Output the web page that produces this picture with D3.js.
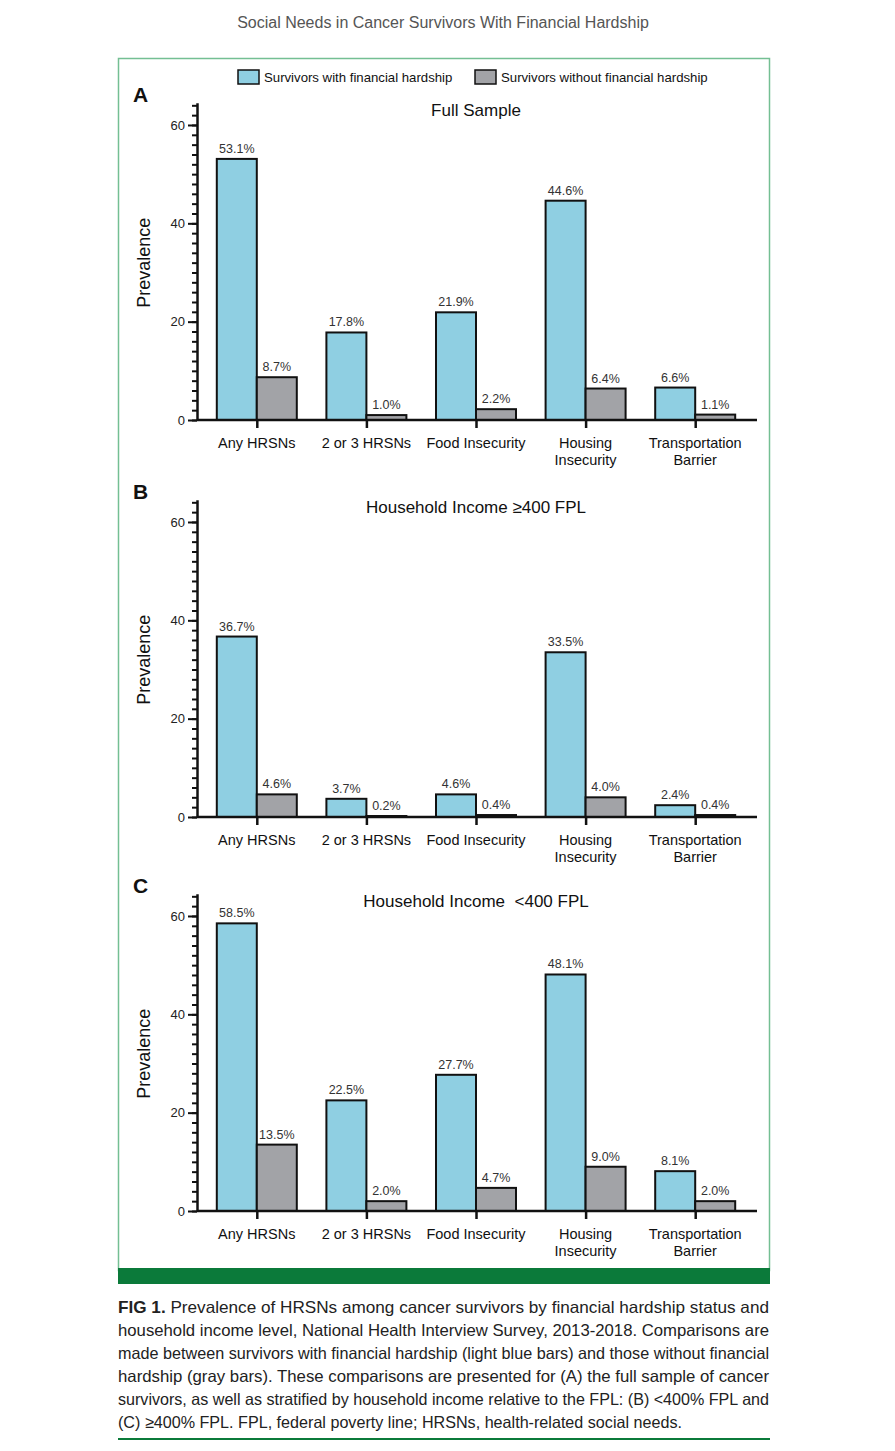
<!DOCTYPE html>
<html>
<head>
<meta charset="utf-8">
<title>Social Needs in Cancer Survivors With Financial Hardship</title>
<script src="https://d3js.org/d3.v7.min.js"></script>
<style>
  body { margin: 0; background: #fff; }
  text { font-family: "Liberation Sans", Arial, sans-serif; }
</style>
</head>
<body>
<div id="home"></div>
<script>
// data
const categories = ["Any HRSNs", "2 or 3 HRSNs", "Food Insecurity", "Housing\nInsecurity", "Transportation\nBarrier"];
const panelLetters = ["A", "B", "C"];
const panelTitles = ["Full Sample", "Household Income \u2265400 FPL", "Household Income  <400 FPL"];
const withHardship = [
  [53.1, 17.8, 21.9, 44.6, 6.6],
  [36.7, 3.7, 4.6, 33.5, 2.4],
  [58.5, 22.5, 27.7, 48.1, 8.1]
];
const withoutHardship = [
  [8.7, 1.0, 2.2, 6.4, 1.1],
  [4.6, 0.2, 0.4, 4.0, 0.4],
  [13.5, 2.0, 4.7, 9.0, 2.0]
];
const yTicks = [0, 20, 40, 60];
const seriesNames = ["Survivors with financial hardship", "Survivors without financial hardship"];
const captionLines = [
  "Prevalence of HRSNs among cancer survivors by financial hardship status and",
  "household income level, National Health Interview Survey, 2013-2018. Comparisons are",
  "made between survivors with financial hardship (light blue bars) and those without financial",
  "hardship (gray bars). These comparisons are presented for (A) the full sample of cancer",
  "survivors, as well as stratified by household income relative to the FPL: (B) <400% FPL and",
  "(C) \u2265400% FPL. FPL, federal poverty line; HRSNs, health-related social needs."
];

const w = 895, h = 1451;
const blue = "#8fcfe2", gray = "#a2a3a7";
const frameGreen = "#74bf93", darkGreen = "#0b7a3a";

const svg = d3.select("#home").append("svg")
  .attr("width", w).attr("height", h);
svg.append("rect").attr("width", w).attr("height", h).attr("fill", "#fff");

// running header
svg.append("text")
  .attr("x", 443).attr("y", 28)
  .attr("text-anchor", "middle")
  .style("font-size", "16px").style("fill", "#555")
  .text("Social Needs in Cancer Survivors With Financial Hardship");

// frame
svg.append("rect")
  .attr("x", 118.5).attr("y", 58.5).attr("width", 651).attr("height", 1212)
  .attr("fill", "none").attr("stroke", frameGreen).attr("stroke-width", 1.5);
svg.append("rect")
  .attr("x", 118).attr("y", 1268).attr("width", 652).attr("height", 16)
  .attr("fill", darkGreen);

// legend
const legend = svg.append("g");
[[238, blue], [475, gray]].forEach(function(d, i){
  legend.append("rect")
    .attr("x", d[0]).attr("y", 70).attr("width", 21).attr("height", 14)
    .attr("fill", d[1]).attr("stroke", "#111").attr("stroke-width", 1.5);
  legend.append("text")
    .attr("x", d[0] + 26).attr("y", 82)
    .style("font-size", "13.2px").style("fill", "#111")
    .text(seriesNames[i]);
});

const x = d3.scalePoint()
  .domain(categories)
  .range([202, 750])
  .padding(0.5);
const barW = 40;
const zeros = [420, 817, 1211];
const unit = 4.917;

panelLetters.forEach(function(letter, p){
  const zero = zeros[p];
  const y = d3.scaleLinear().domain([0, 64.5]).range([zero, zero - 64.5 * unit]);
  const g = svg.append("g");

  g.append("text")
    .attr("x", 133).attr("y", zero - 318)
    .style("font-size", "21px").style("font-weight", "bold").style("fill", "#111")
    .text(letter);

  g.append("text")
    .attr("x", 476).attr("y", zero - 304)
    .attr("text-anchor", "middle")
    .style("font-size", "17px").style("fill", "#111").style("white-space", "pre")
    .text(panelTitles[p]);

  g.append("text")
    .attr("transform", "translate(150," + y(32) + ") rotate(-90)")
    .attr("text-anchor", "middle")
    .style("font-size", "18px").style("fill", "#111")
    .text("Prevalence");

  // minor ticks
  g.append("g")
    .attr("transform", "translate(197,0)")
    .call(d3.axisLeft(y).tickValues(d3.range(0, 65, 2)).tickSize(5).tickSizeOuter(0).tickFormat(""))
    .call(a => a.select(".domain").remove())
    .call(a => a.selectAll("line").attr("stroke", "#111").attr("stroke-width", 2));

  // major ticks + axis line
  g.append("g")
    .attr("transform", "translate(197,0)")
    .call(d3.axisLeft(y).tickValues(yTicks).tickSize(9).tickSizeOuter(0).tickPadding(3))
    .call(a => a.select(".domain").attr("stroke", "#111").attr("stroke-width", 2.5))
    .call(a => a.selectAll("line").attr("stroke", "#111").attr("stroke-width", 2))
    .call(a => a.selectAll("text").style("font-size", "13px").style("fill", "#222")
      .style("font-family", "'Liberation Sans', Arial, sans-serif"));

  // bars
  const rows = categories.map((c, i) => ({c: c, a: withHardship[p][i], b: withoutHardship[p][i]}));
  const bars = g.selectAll(".grp").data(rows).enter().append("g");
  bars.append("rect")
    .attr("x", d => x(d.c) - barW).attr("y", d => y(d.a))
    .attr("width", barW).attr("height", d => y(0) - y(d.a))
    .attr("fill", blue).attr("stroke", "#111").attr("stroke-width", 2);
  bars.append("rect")
    .attr("x", d => x(d.c)).attr("y", d => y(d.b))
    .attr("width", barW).attr("height", d => y(0) - y(d.b))
    .attr("fill", gray).attr("stroke", "#111").attr("stroke-width", 2);
  bars.append("text")
    .attr("x", d => x(d.c) - barW / 2).attr("y", d => y(d.a) - 6)
    .attr("text-anchor", "middle")
    .style("font-size", "12.5px").style("fill", "#333")
    .text(d => d.a.toFixed(1) + "%");
  bars.append("text")
    .attr("x", d => x(d.c) + barW / 2).attr("y", d => y(d.b) - 6)
    .attr("text-anchor", "middle")
    .style("font-size", "12.5px").style("fill", "#333")
    .text(d => d.b.toFixed(1) + "%");

  // x axis
  g.append("line")
    .attr("x1", 197).attr("x2", 757).attr("y1", y(0)).attr("y2", y(0))
    .attr("stroke", "#111").attr("stroke-width", 2.5);
  g.append("g")
    .attr("transform", "translate(0," + y(0) + ")")
    .call(d3.axisBottom(x).tickSize(8).tickSizeOuter(0).tickFormat(""))
    .call(a => a.select(".domain").remove())
    .call(a => a.selectAll("line").attr("stroke", "#111").attr("stroke-width", 2.5));

  const lab = g.selectAll(".xl").data(categories).enter().append("text")
    .attr("x", d => x(d)).attr("y", y(0) + 28)
    .attr("text-anchor", "middle")
    .style("font-size", "14.5px").style("fill", "#111");
  lab.selectAll("tspan").data(d => d.split("\n").map(s => [d, s])).enter().append("tspan")
    .attr("x", d => x(d[0])).attr("dy", (d, i) => i ? 17 : 0)
    .text(d => d[1]);
});

// caption, justified to the frame width
const cap = svg.append("g");
captionLines.forEach(function(line, i){
  const t = cap.append("text")
    .attr("x", 118).attr("y", 1313 + i * 23)
    .style("font-size", "16.5px").style("fill", "#222");
  if(i === 0){
    t.append("tspan").style("font-weight", "bold").text("FIG 1. ");
  }
  t.append("tspan").text(line);
  t.attr("textLength", i < captionLines.length - 1 ? 651 : 564)
   .attr("lengthAdjust", "spacingAndGlyphs");
});
svg.append("rect")
  .attr("x", 118).attr("y", 1438).attr("width", 652).attr("height", 2)
  .attr("fill", darkGreen);
</script>
</body>
</html>
